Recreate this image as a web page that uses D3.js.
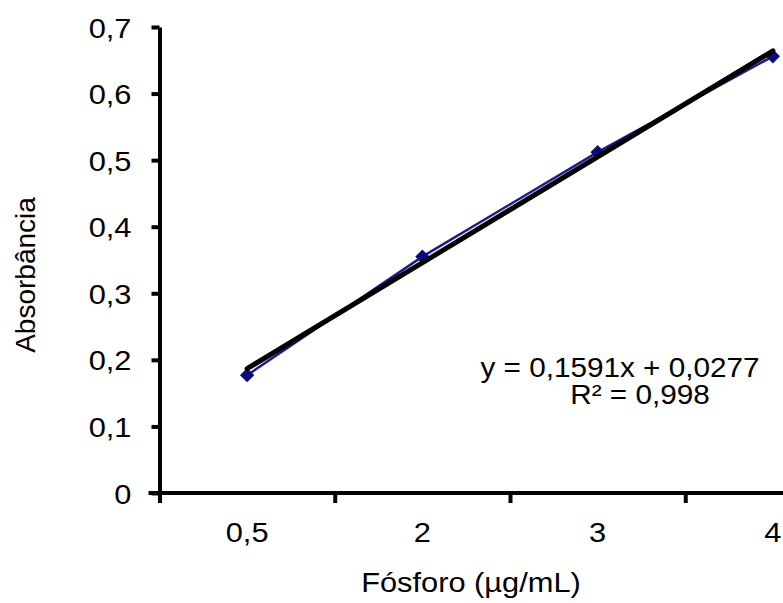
<!DOCTYPE html>
<html>
<head>
<meta charset="utf-8">
<script src="https://cdn.jsdelivr.net/npm/d3@7"></script>
<style>
  body { margin: 0; background: #fff; }
  text { font-family: "Liberation Sans", Arial, sans-serif; fill: #000; }
</style>
</head>
<body>
<div id="chart"></div>
<script>
// data
var categories = ["0,5", "2", "3", "4"]
var absorbance = [0.177, 0.355, 0.512, 0.656]
var yTicks = [0, 0.1, 0.2, 0.3, 0.4, 0.5, 0.6, 0.7]
var trendSlope = 0.1591
var trendIntercept = 0.0277
var eqLines = ["y = 0,1591x + 0,0277", "R² = 0,998"]

var width = 783
var height = 603
var plotLeft = 159.5, plotTop = 27, plotBottom = 493
var plotRight = 860.5   // plot area runs past the right edge in the original
var stretch = "scale(1.1,1)"

var svg = d3.select("#chart")
  .append("svg")
    .attr("width", width)
    .attr("height", height)

// scales
var x = d3.scaleBand()
  .domain(categories)
  .range([plotLeft, plotRight])
var xIdx = d3.scaleLinear()
  .domain([0, categories.length])
  .range([plotLeft, plotRight])
var y = d3.scaleLinear()
  .domain([0, 0.7])
  .range([plotBottom, plotTop])

var fmt = function(d) { return d == 0 ? "0" : d3.format(".1f")(d).replace(".", ",") }

// y axis
var yAxis = svg.append("g")
  .attr("transform", "translate(" + plotLeft + ",0)")
  .call(d3.axisLeft(y).tickValues(yTicks).tickFormat(fmt).tickSize(8).tickSizeOuter(0))
yAxis.select(".domain").attr("stroke", "#000").attr("stroke-width", 4)
yAxis.selectAll(".tick line").attr("stroke", "#000").attr("stroke-width", 4)
yAxis.selectAll(".tick text")
  .attr("x", null)
  .attr("dy", "0.36em")
  .attr("transform", "translate(-28,0) " + stretch)
  .style("font-size", "28px")

// x axis: ticks on category boundaries, labels in the middle
var xTicks = svg.append("g")
  .attr("transform", "translate(0," + plotBottom + ")")
  .call(d3.axisBottom(xIdx).tickValues(d3.range(categories.length + 1)).tickFormat("").tickSize(10).tickSizeOuter(0))
xTicks.select(".domain").remove()
xTicks.selectAll(".tick line").attr("stroke", "#000").attr("stroke-width", 4)

var xAxis = svg.append("g")
  .attr("transform", "translate(0," + plotBottom + ")")
  .call(d3.axisBottom(x).tickSize(0).tickSizeOuter(0))
xAxis.select(".domain").attr("stroke", "#000").attr("stroke-width", 4)
  .attr("d", "M" + (plotLeft - 11) + ",0H" + plotRight)
xAxis.selectAll(".tick text")
  .attr("y", null)
  .attr("dy", null)
  .attr("transform", "translate(0,49) " + stretch)
  .style("font-size", "28px")

// data line + diamonds
var cx = function(d, i) { return x(categories[i]) + x.bandwidth() / 2 }
var line = d3.line()
  .x(cx)
  .y(function(d) { return y(d) })

svg.append("path")
  .datum(absorbance)
  .attr("d", line)
  .attr("fill", "none")
  .attr("stroke", "#1c1c8c")
  .attr("stroke-width", 2.5)

svg.selectAll("diamonds")
  .data(absorbance)
  .enter()
  .append("path")
    .attr("d", d3.symbol().type(d3.symbolDiamond2).size(130))
    .attr("transform", function(d, i) { return "translate(" + cx(d, i) + "," + y(d) + ")" })
    .attr("fill", "#0a0a80")

// linear trendline (x = category number 1..n)
var trend = [1, categories.length].map(function(n) { return trendIntercept + trendSlope * n })
svg.append("line")
  .attr("x1", cx(null, 0))
  .attr("y1", y(trend[0]))
  .attr("x2", cx(null, categories.length - 1))
  .attr("y2", y(trend[1]))
  .attr("stroke", "#000")
  .attr("stroke-width", 5)
  .attr("stroke-linecap", "round")

// equation label
svg.append("text")
  .attr("transform", "translate(620,377) " + stretch)
  .style("text-anchor", "middle")
  .style("font-size", "27px")
  .text(eqLines[0])
svg.append("text")
  .attr("transform", "translate(640,404) " + stretch)
  .style("text-anchor", "middle")
  .style("font-size", "27px")
  .text(eqLines[1])

// axis titles
svg.append("text")
  .attr("transform", "translate(471,592) " + stretch)
  .style("text-anchor", "middle")
  .style("font-size", "28px")
  .text("Fósforo (µg/mL)")

svg.append("text")
  .attr("transform", "translate(35,275) rotate(-90)")
  .style("text-anchor", "middle")
  .style("font-size", "28px")
  .text("Absorbância")
</script>
</body>
</html>
